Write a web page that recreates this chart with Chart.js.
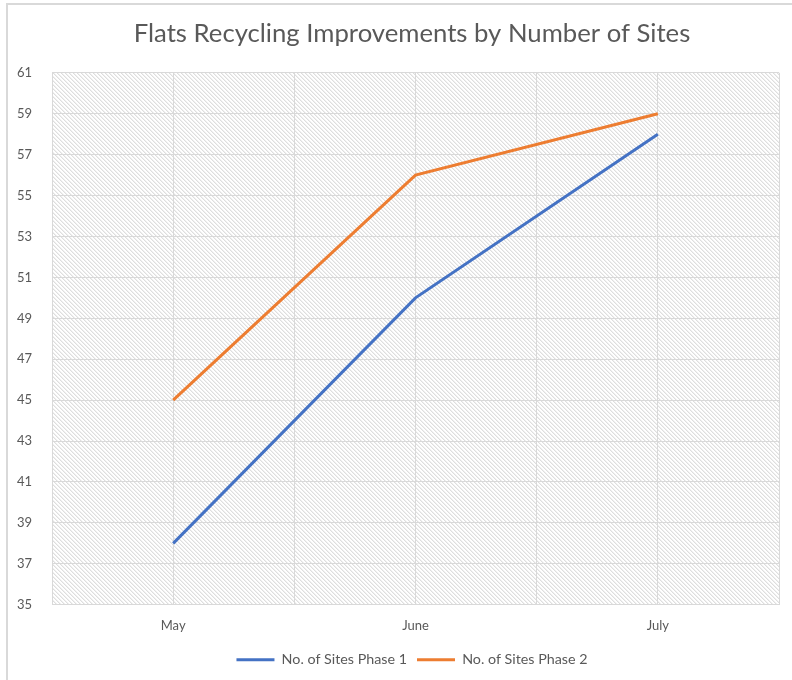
<!DOCTYPE html>
<html>
<head>
<meta charset="utf-8">
<script src="https://cdn.jsdelivr.net/npm/chart.js@4/dist/chart.umd.min.js"></script>
<style>
  html, body { margin: 0; padding: 0; background: #fff; }
  #wrap { position: relative; width: 792px; height: 680px; }
  #frame { position: absolute; left: 6px; top: 3px; right: 0; bottom: 0; border-top: 2px solid #d9d9d9; border-left: 2px solid #d9d9d9; pointer-events: none; }
  canvas { position: absolute; left: 0; top: 0; }
</style>
</head>
<body>
<div id="wrap">
  <canvas id="c" width="792" height="680"></canvas>
  <div id="frame"></div>
</div>
<script>
const months = ["May", "June", "July"];
const phase1 = [38, 50, 58];
const phase2 = [45, 56, 59];
const seriesNames = ["No. of Sites Phase 1", "No. of Sites Phase 2"];
const yMin = 35, yMax = 61, yStep = 2;

const FONT = "'Lato', sans-serif";
const TXT = '#595959';

function makePattern(ctx) {
  const p = document.createElement('canvas');
  p.width = 4; p.height = 4;
  const pc = p.getContext('2d');
  const img = pc.createImageData(4, 4);
  for (let y = 0; y < 4; y++) {
    for (let x = 0; x < 4; x++) {
      const d = ((x - y) % 4 + 4) % 4;
      let v = 255;
      if (d === 0) v = 222;
      else if (d === 1) v = 240;
      const i = (y * 4 + x) * 4;
      img.data[i] = v; img.data[i+1] = v; img.data[i+2] = v; img.data[i+3] = 255;
    }
  }
  pc.putImageData(img, 0, 0);
  return ctx.createPattern(p, 'repeat');
}

const hatchPlugin = {
  id: 'hatch',
  afterLayout(chart) {
    if (chart.titleBlock) chart.titleBlock.left += 44;
    if (chart.legend) chart.legend.left += 44;
  },
  beforeDraw(chart) {
    const { ctx, chartArea: a } = chart;
    ctx.save();
    ctx.fillStyle = makePattern(ctx);
    ctx.fillRect(a.left, a.top, a.right - a.left, a.bottom - a.top);
    ctx.restore();
  }
};

const toPts = arr => arr.map((v, i) => ({ x: i, y: v }));

new Chart(document.getElementById('c'), {
  type: 'line',
  data: {
    datasets: [
      { label: seriesNames[0], data: toPts(phase1), borderColor: '#4472C4', backgroundColor: '#4472C4', borderWidth: 3, pointRadius: 0, tension: 0 },
      { label: seriesNames[1], data: toPts(phase2), borderColor: '#ED7D31', backgroundColor: '#ED7D31', borderWidth: 3, pointRadius: 0, tension: 0 }
    ]
  },
  options: {
    responsive: false,
    animation: false,
    layout: { padding: { left: 0, right: 12, top: 4, bottom: 3 } },
    plugins: {
      title: {
        display: true,
        text: 'Flats Recycling Improvements by Number of Sites',
        color: TXT,
        font: { family: FONT, size: 25.7, weight: 'normal' },
        padding: { top: 14, bottom: 24 }
      },
      legend: {
        position: 'bottom',
        labels: {
          color: TXT,
          font: { family: FONT, size: 14.3 },
          usePointStyle: true,
          pointStyle: 'line',
          pointStyleWidth: 38,
          boxHeight: 12,
          padding: 10
        }
      },
      tooltip: { enabled: false }
    },
    scales: {
      x: {
        type: 'linear',
        min: -0.5, max: 2.5,
        ticks: {
          stepSize: 0.5,
          autoSkip: false,
          maxRotation: 0,
          color: TXT,
          font: { family: FONT, size: 13 },
          padding: 13,
          callback: v => Number.isInteger(v) ? months[v] : ''
        },
        grid: { color: '#d9d9d9', lineWidth: 1, drawTicks: false },
        border: { color: '#d9d9d9' },
        afterFit: s => { s.height = 38; }
      },
      y: {
        min: yMin, max: yMax,
        ticks: { stepSize: yStep, color: TXT, font: { family: FONT, size: 13 }, padding: 20 },
        grid: { color: '#d9d9d9', lineWidth: 1, drawTicks: false },
        border: { color: '#d9d9d9' },
        afterFit: s => { s.width = 52; }
      }
    }
  },
  plugins: [hatchPlugin]
});
</script>
</body>
</html>
